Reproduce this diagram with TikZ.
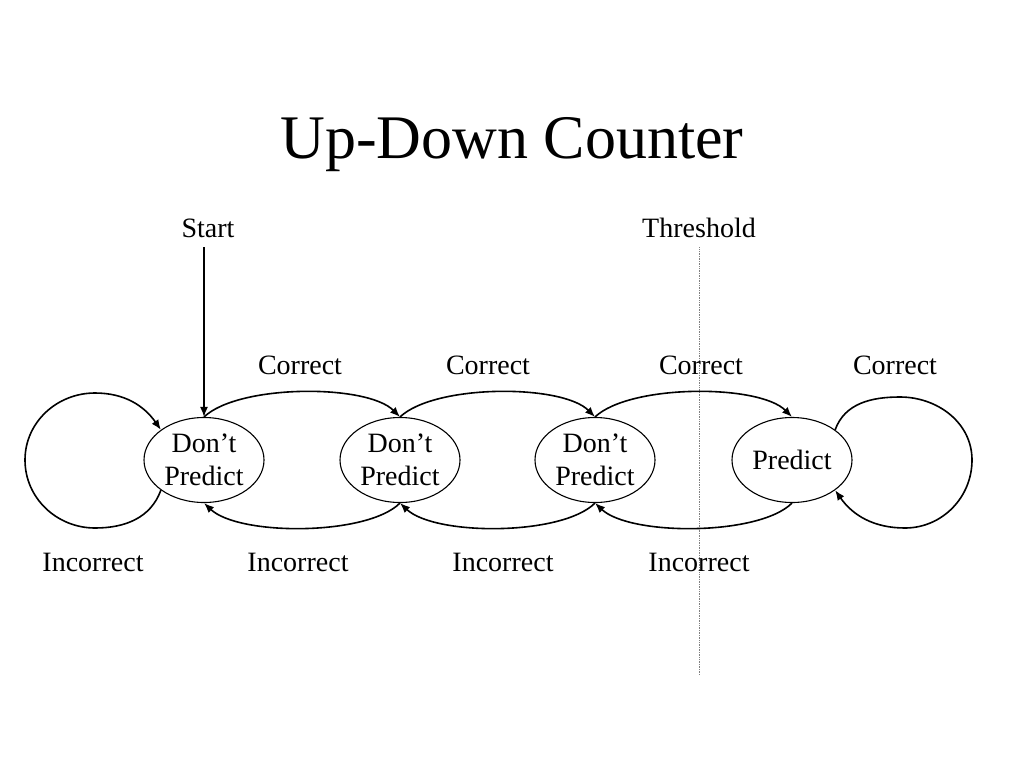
\documentclass[tikz,border=0pt]{standalone}
\usepackage{fontspec}
\setmainfont{Liberation Serif}
\usetikzlibrary{shapes.geometric,arrows.meta}
\begin{document}
\begin{tikzpicture}[x=1pt,y=-1pt,
  state/.style={draw,ellipse,line width=1.1pt,minimum width=120pt,minimum height=85pt,inner sep=0pt,align=center,font=\fontsize{28}{33}\selectfont},
  lbl/.style={anchor=base,inner sep=0pt,font=\fontsize{28}{33}\selectfont},
  arc/.style={line width=1.6pt,-{Latex[length=10pt,width=8pt]}}]
\useasboundingbox (0,0) rectangle (1024,768);
\fill[white] (0,0) rectangle (1024,768);
\node[anchor=base,inner sep=0pt,font=\fontsize{62}{70}\selectfont] (title) at (512,158) {Up-Down Counter};
\node[state] (n1) at (204,460) {Don’t\\Predict};
\node[state] (n2) at (400,460) {Don’t\\Predict};
\node[state] (n3) at (595,460) {Don’t\\Predict};
\node[state] (n4) at (792,460) {Predict};
\node[lbl] (start) at (208,237) {Start};
\node[lbl] (thr) at (699,237) {Threshold};
\coordinate (thrEnd) at (699,675);
\draw[densely dotted,line width=0.7pt,gray] (thr.south) ++(0,10) -- (thrEnd);
\draw[arc] (n1.north |- start.south) ++(0,10) -- (n1.north);
\node[lbl] (c1) at (300,374) {Correct};
\node[lbl] (c2) at (488,374) {Correct};
\node[lbl] (c3) at (701,374) {Correct};
\node[lbl] (c4) at (895,374) {Correct};
\node[lbl] (i1) at (93,571) {Incorrect};
\node[lbl] (i2) at (298,571) {Incorrect};
\node[lbl] (i3) at (503,571) {Incorrect};
\node[lbl] (i4) at (699,571) {Incorrect};
% correct arcs
\draw[arc] (n1.north) .. controls +(35,-33) and +(-33,-33) .. (n2.north);
\draw[arc] (n2.north) .. controls +(35,-33) and +(-33,-33) .. (n3.north);
\draw[arc] (n3.north) .. controls +(35,-33) and +(-33,-33) .. (n4.north);
% incorrect arcs
\draw[arc] (n2.south) .. controls +(-33,33) and +(35,33) .. (n1.south);
\draw[arc] (n3.south) .. controls +(-33,33) and +(35,33) .. (n2.south);
\draw[arc] (n4.south) .. controls +(-33,33) and +(35,33) .. (n3.south);
% self loops
\coordinate (l1) at (95,528);
\coordinate (l2) at (25,460);
\coordinate (l3) at (95,393);
\coordinate (r1) at (900,397);
\coordinate (r2) at (972,460);
\coordinate (r3) at (905,528);
\draw[arc] (n1.-145) to[out=-110,in=0] (l1) to[out=180,in=-90] (l2) to[out=90,in=180] (l3) to[out=0,in=125] (n1.145);
\draw[arc] (n4.35) to[out=70,in=180] (r1) to[out=0,in=90] (r2) to[out=-90,in=0] (r3) to[out=180,in=-55] (n4.-35);
\end{tikzpicture}
\end{document}
